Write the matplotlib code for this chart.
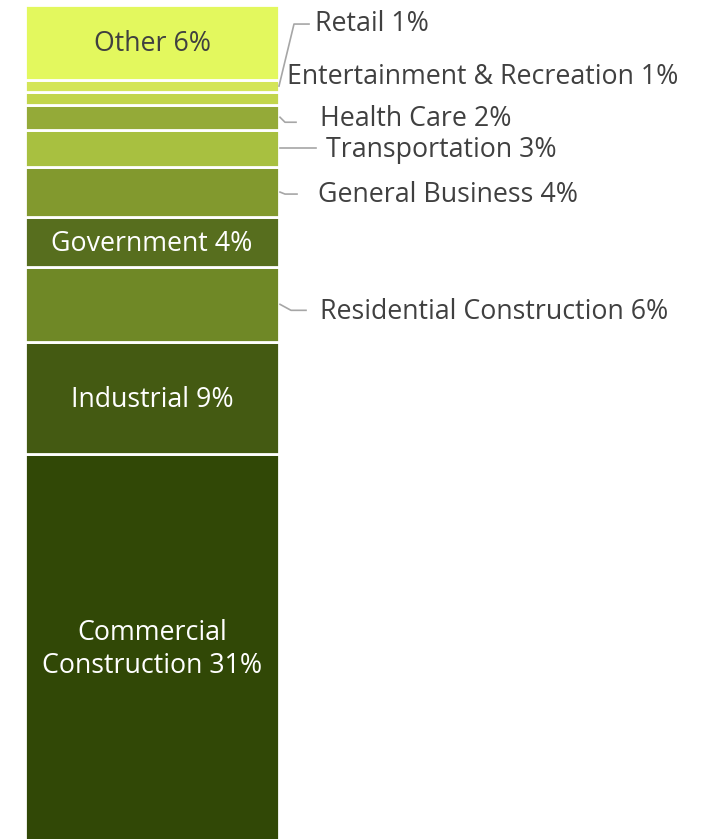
import matplotlib.pyplot as plt

# bottom to top
categories = ["Commercial\nConstruction", "Industrial", "Residential Construction",
              "Government", "General Business", "Transportation", "Health Care",
              "Entertainment & Recreation", "Retail", "Other"]
shares = [31, 9, 6, 4, 4, 3, 2, 1, 1, 6]
colors = ["#314806", "#445a12", "#6f8826", "#576e1e", "#82992e", "#a8c040",
          "#94aa38", "#c2d54b", "#d4e558", "#e3f85e"]
inside = [True, True, False, True, False, False, False, False, False, True]

plt.rcParams['font.family'] = ['Open Sans', 'DejaVu Sans']

fig = plt.figure(figsize=(7.18, 8.39), dpi=100)
ax = fig.add_axes([0, 0, 1, 1])
ax.set_xlim(0, 718)
ax.set_ylim(0.13, 67.4)
ax.axis("off")

bar_x, bar_w = 152, 254
bottoms = [sum(shares[:i]) for i in range(len(shares))]
ax.bar([bar_x] * len(shares), shares, bottom=bottoms, width=bar_w,
       color=colors, edgecolor="white", linewidth=2)

px = 12.47  # pixels per percent


def py(y):
    # pixel row (from top) -> data y
    return 67.4 - y / px


fs = 19.3
shift = 2 / px  # nudge text down a little
edge = bar_x + bar_w / 2
for name, v, b, c, ins in zip(categories, shares, bottoms, colors, inside):
    if not ins:
        continue
    tc = "#404040" if name == "Other" else "white"
    ax.text(bar_x, b + v / 2 - shift, f"{name} {v}%", ha="center", va="center",
            color=tc, fontsize=fs, linespacing=1.22)

# outside labels: (text x, text y px, leader points in px)
outside = {
    "Retail": (315, 22, [(0, 0), (15, -62), (30, -62)]),
    "Entertainment & Recreation": (287, 75, None),
    "Health Care": (320, 117, [(1, 0), (6, 5), (17, 5)]),
    "Transportation": (326, 148, [(1, 0), (37, 0)]),
    "General Business": (318, 193, [(1, 0), (6, 2), (18, 2)]),
    "Residential Construction": (320, 310, [(1, 0), (12, 6), (27, 6)]),
}
for name, v, b in zip(categories, shares, bottoms):
    if name not in outside:
        continue
    tx, ty, pts = outside[name]
    ax.text(tx, py(ty) - shift, f"{name} {v}%", ha="left", va="center",
            color="#404040", fontsize=fs)
    if pts:
        mid = b + v / 2
        xs = [edge + p[0] for p in pts]
        ys = [mid - p[1] / px for p in pts]
        ax.plot(xs, ys, color="#a6a6a6", linewidth=1.2)

fig.savefig("out.png", dpi=100)
